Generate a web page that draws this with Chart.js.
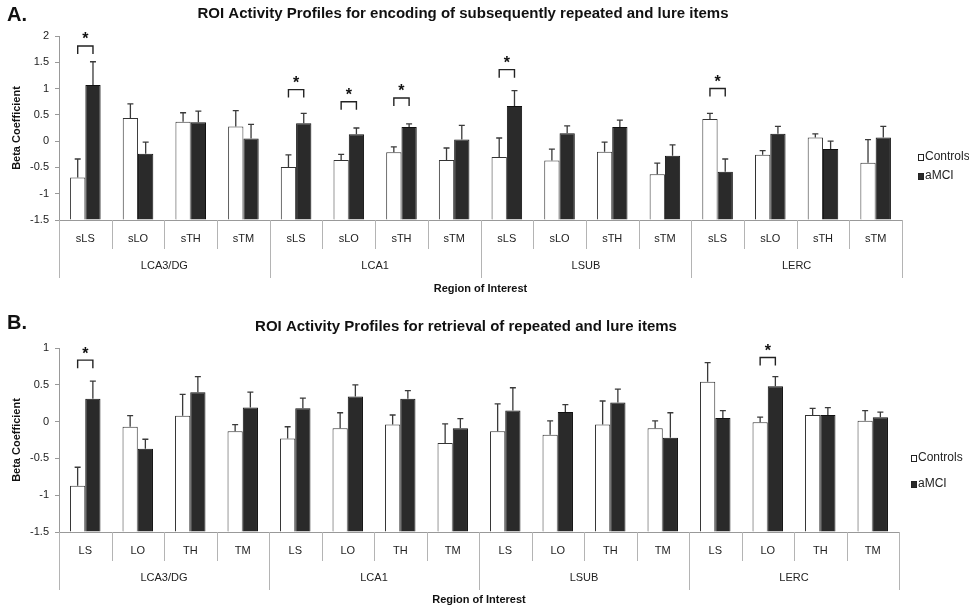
<!DOCTYPE html>
<html>
<head>
<meta charset="utf-8">
<script src="https://cdn.jsdelivr.net/npm/chart.js@4.4.1/dist/chart.umd.min.js"></script>
<style>
  html, body { margin: 0; padding: 0; background: #fff; }
  #wrapA { position: absolute; left: 0; top: 0; }
  #wrapB { position: absolute; left: 0; top: 300px; }
</style>
</head>
<body>
<div id="wrapA"><canvas id="chartA" width="969" height="300"></canvas></div>
<div id="wrapB"><canvas id="chartB" width="969" height="310"></canvas></div>
<script>
// regions and sub-measures
const groups = ['LCA3/DG', 'LCA1', 'LSUB', 'LERC'];
const subsA = ['sLS', 'sLO', 'sTH', 'sTM'];
const subsB = ['LS', 'LO', 'TH', 'TM'];

// panel A: encoding
const ctrlA = [-0.69, 0.44, 0.37, 0.28, -0.49, -0.36, -0.21, -0.36, -0.30, -0.37, -0.20, -0.63, 0.42, -0.26, 0.07, -0.41];
const ctrlErrA = [0.35, 0.27, 0.17, 0.30, 0.23, 0.11, 0.10, 0.23, 0.36, 0.22, 0.18, 0.21, 0.11, 0.08, 0.07, 0.44];
const amciA = [1.07, -0.24, 0.36, 0.05, 0.34, 0.13, 0.27, 0.03, 0.67, 0.15, 0.27, -0.28, -0.58, 0.14, -0.15, 0.07];
const amciErrA = [0.44, 0.22, 0.21, 0.27, 0.19, 0.12, 0.06, 0.27, 0.29, 0.14, 0.13, 0.21, 0.24, 0.14, 0.15, 0.21];
// significant pairs: [category index, bracket level]
const sigA = [[0, 1.81], [4, 0.98], [5, 0.75], [6, 0.82], [8, 1.36], [12, 1.00]];

// panel B: retrieval
const ctrlB = [-0.87, -0.07, 0.08, -0.13, -0.23, -0.09, -0.04, -0.29, -0.13, -0.18, -0.04, -0.09, 0.54, -0.01, 0.09, 0.01];
const ctrlErrB = [0.25, 0.15, 0.29, 0.09, 0.16, 0.21, 0.13, 0.26, 0.37, 0.19, 0.32, 0.10, 0.26, 0.07, 0.09, 0.14];
const amciB = [0.31, -0.37, 0.40, 0.19, 0.18, 0.34, 0.31, -0.09, 0.15, 0.13, 0.26, -0.22, 0.05, 0.48, 0.09, 0.06];
const amciErrB = [0.24, 0.13, 0.21, 0.21, 0.14, 0.16, 0.11, 0.13, 0.31, 0.10, 0.18, 0.34, 0.10, 0.13, 0.10, 0.07];
const sigB = [[0, 0.835], [13, 0.87]];

const FONT = '"Liberation Sans", Arial, Helvetica, sans-serif';
Chart.defaults.font.family = FONT;
Chart.defaults.color = '#222';

// error bars, brackets, two-level x labels, legend and titles
const panelPlugin = {
  id: 'panel',
  afterDatasetsDraw(chart, args, opts) {
    const ctx = chart.ctx;
    const ys = chart.scales.y;
    ctx.save();
    ctx.strokeStyle = '#3a3a3a';
    ctx.lineWidth = 1.3;
    chart.data.datasets.forEach((ds, di) => {
      chart.getDatasetMeta(di).data.forEach((bar, i) => {
        const y0 = ys.getPixelForValue(ds.data[i]);
        const y1 = ys.getPixelForValue(ds.data[i] + ds.errors[i]);
        ctx.beginPath();
        ctx.moveTo(bar.x, y0);
        ctx.lineTo(bar.x, y1);
        ctx.moveTo(bar.x - 3, y1);
        ctx.lineTo(bar.x + 3, y1);
        ctx.stroke();
      });
    });

    // significance brackets
    const m0 = chart.getDatasetMeta(0).data;
    const m1 = chart.getDatasetMeta(1).data;
    ctx.strokeStyle = '#222';
    ctx.lineWidth = 1.4;
    ctx.fillStyle = '#111';
    ctx.font = 'bold 16px ' + FONT;
    ctx.textAlign = 'center';
    ctx.textBaseline = 'middle';
    opts.sig.forEach(([i, level]) => {
      const x1 = m0[i].x, x2 = m1[i].x;
      const yt = ys.getPixelForValue(level);
      ctx.beginPath();
      ctx.moveTo(x1, yt + 8);
      ctx.lineTo(x1, yt);
      ctx.lineTo(x2, yt);
      ctx.lineTo(x2, yt + 8);
      ctx.stroke();
      ctx.fillText('*', (x1 + x2) / 2, yt - 6);
    });
    ctx.restore();
  },
  afterDraw(chart, args, opts) {
    const ctx = chart.ctx;
    const xs = chart.scales.x;
    const ca = chart.chartArea;
    const n = chart.data.labels.length;
    const step = xs.getPixelForValue(1) - xs.getPixelForValue(0);
    ctx.save();
    // separators below the axis
    ctx.strokeStyle = '#b4b4b4';
    ctx.lineWidth = 1;
    for (let k = 0; k <= n; k++) {
      const x = Math.round(xs.getPixelForValue(k) - step / 2) + 0.5;
      const len = k % 4 === 0 ? 58 : 29;
      ctx.beginPath();
      ctx.moveTo(x, ca.bottom);
      ctx.lineTo(x, ca.bottom + len);
      ctx.stroke();
    }
    // group labels
    ctx.fillStyle = '#222';
    ctx.font = '11px ' + FONT;
    ctx.textAlign = 'center';
    ctx.textBaseline = 'middle';
    groups.forEach((g, gi) => {
      const xa = xs.getPixelForValue(gi * 4) - step / 2;
      const xb = xs.getPixelForValue(gi * 4 + 3) + step / 2;
      ctx.fillText(g, (xa + xb) / 2, ca.bottom + 46);
    });

    // panel letter and title
    ctx.fillStyle = '#111';
    ctx.textAlign = 'left';
    ctx.font = 'bold 20px ' + FONT;
    ctx.fillText(opts.letter, 7, opts.letterY);
    ctx.textAlign = 'center';
    ctx.font = 'bold 15px ' + FONT;
    ctx.fillText(opts.title, opts.titleX, opts.titleY);

    // legend
    ctx.font = '12px ' + FONT;
    ctx.textAlign = 'left';
    chart.data.datasets.forEach((ds, di) => {
      const ly = opts.legendY[di];
      ctx.fillStyle = ds.backgroundColor;
      ctx.fillRect(opts.legendX, ly - 3, 5, 6);
      ctx.strokeStyle = '#222';
      ctx.lineWidth = 1;
      ctx.strokeRect(opts.legendX + 0.5, ly - 2.5, 5, 6);
      ctx.fillStyle = '#222';
      ctx.fillText(ds.label, opts.legendX + 7, ly);
    });
    ctx.restore();
  }
};

function makeChart(id, subs, ctrl, ctrlErr, amci, amciErr, p) {
  const labels = [];
  groups.forEach(() => subs.forEach(s => labels.push(s)));
  return new Chart(document.getElementById(id), {
    type: 'bar',
    data: {
      labels: labels,
      datasets: [
        { label: 'Controls', data: ctrl, errors: ctrlErr, base: -1.5,
          backgroundColor: '#ffffff', borderColor: '#333', borderWidth: 1 },
        { label: 'aMCI', data: amci, errors: amciErr, base: -1.5,
          backgroundColor: '#2a2a2a', borderColor: '#111', borderWidth: 1 }
      ]
    },
    options: {
      responsive: false,
      animation: false,
      layout: { padding: { top: p.top, right: p.right, left: 0, bottom: 0 } },
      datasets: { bar: { categoryPercentage: 0.58, barPercentage: 1.0 } },
      plugins: {
        legend: { display: false },
        tooltip: { enabled: false },
        panel: p
      },
      scales: {
        x: {
          offset: true,
          grid: { drawOnChartArea: false, drawTicks: false },
          border: { color: '#999' },
          ticks: { color: '#222', font: { size: 11 }, padding: 12, autoSkip: false, maxRotation: 0 },
          title: { display: true, text: 'Region of Interest', color: '#111',
                   font: { size: 11, weight: 'bold' }, padding: { top: 0, bottom: p.xTitlePad } },
          afterFit(s) { s.height = p.xHeight; }
        },
        y: {
          min: -1.5,
          max: p.yMax,
          ticks: { stepSize: 0.5, color: '#222', font: { size: 11 }, padding: 6,
                   callback: v => String(v) },
          grid: { drawOnChartArea: false, drawTicks: true, tickLength: 4, color: '#999' },
          border: { color: '#999' },
          title: { display: true, text: 'Beta Coefficient', color: '#111',
                   font: { size: 11, weight: 'bold' }, padding: { top: 10, bottom: 0 } },
          afterFit(s) { s.width = 59; }
        }
      }
    },
    plugins: [panelPlugin]
  });
}

makeChart('chartA', subsA, ctrlA, ctrlErrA, amciA, amciErrA, {
  top: 36, right: 67, xHeight: 80, xTitlePad: 4, yMax: 2,
  letter: 'A.', letterY: 15,
  title: 'ROI Activity Profiles for encoding of subsequently repeated and lure items',
  titleX: 463, titleY: 14,
  legendX: 918, legendY: [157, 176],
  sig: sigA
});

makeChart('chartB', subsB, ctrlB, ctrlErrB, amciB, amciErrB, {
  top: 48, right: 70, xHeight: 78, xTitlePad: 3, yMax: 1,
  letter: 'B.', letterY: 23,
  title: 'ROI Activity Profiles for retrieval of repeated and lure items',
  titleX: 466, titleY: 27,
  legendX: 911, legendY: [158, 184],
  sig: sigB
});
</script>
</body>
</html>
